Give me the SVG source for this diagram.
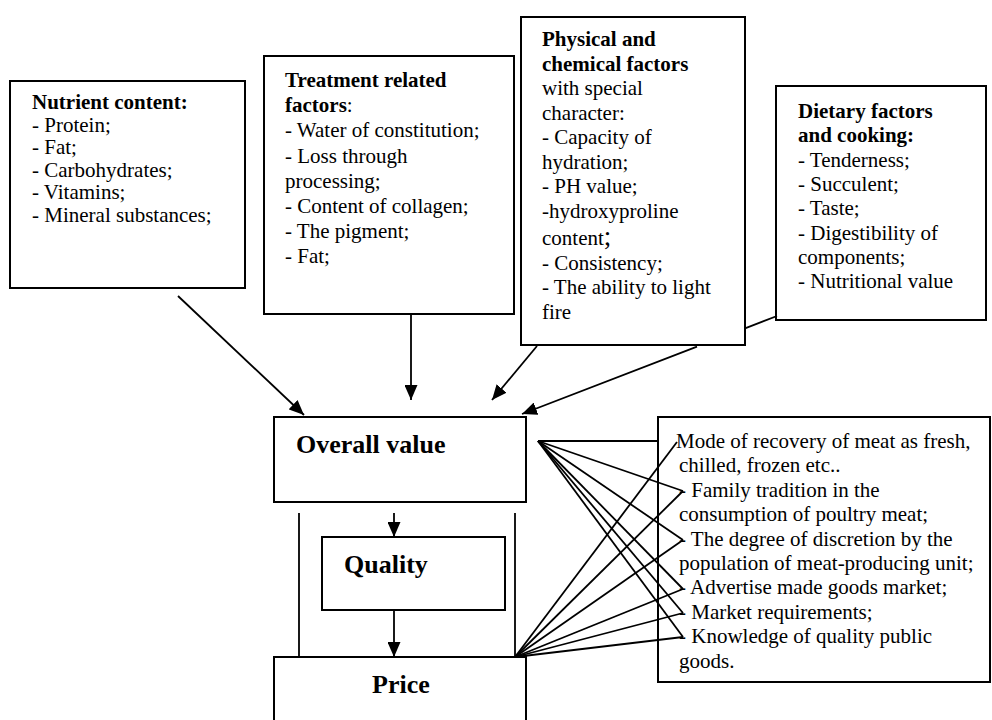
<svg xmlns="http://www.w3.org/2000/svg" width="992" height="720" viewBox="0 0 992 720">
<style>
.box{fill:#fff;stroke:#000;stroke-width:2}
.open{fill:none;stroke:#000;stroke-width:2}
.t{font-family:"Liberation Serif","Times New Roman",serif;font-size:21px;fill:#000}
.b{font-weight:bold}
.big{font-family:"Liberation Serif","Times New Roman",serif;font-size:26px;font-weight:bold;fill:#000}
.ln{stroke:#000;stroke-width:1.8;fill:none}
.ar{stroke:#000;stroke-width:1.8;fill:none;marker-end:url(#ah)}
</style>
<defs>
<marker id="ah" markerWidth="15" markerHeight="13" refX="15" refY="6.5" orient="auto" markerUnits="userSpaceOnUse">
<path d="M0,0 L15,6.5 L0,13 z" fill="#000"/>
</marker>
</defs>
<rect width="992" height="720" fill="#fff"/>
<g id="nutrient">
<rect class="box" x="10" y="81" width="235" height="207"/>
<text class="t" x="32"><tspan class="b" y="109">Nutrient content:</tspan><tspan x="32" y="131.5">- Protein;</tspan><tspan x="32" y="154">- Fat;</tspan><tspan x="32" y="176.5">- Carbohydrates;</tspan><tspan x="32" y="199">- Vitamins;</tspan><tspan x="32" y="221.5">- Mineral substances;</tspan></text>
</g>
<g id="treatment">
<rect class="box" x="264" y="56" width="250" height="258"/>
<text class="t" x="285"><tspan class="b" y="87">Treatment related</tspan><tspan x="285" y="112.2"><tspan class="b">factors</tspan>:</tspan><tspan x="285" y="137.4">- Water of constitution;</tspan><tspan x="285" y="162.6">- Loss through</tspan><tspan x="285" y="187.8">processing;</tspan><tspan x="285" y="213">- Content of collagen;</tspan><tspan x="285" y="238.2">- The pigment;</tspan><tspan x="285" y="263.4">- Fat;</tspan></text>
</g>
<g id="physical">
<rect class="box" x="521" y="17" width="224" height="328"/>
<text class="t" x="542"><tspan class="b" y="46">Physical and</tspan><tspan class="b" x="542" y="70.5">chemical factors</tspan><tspan x="542" y="95">with special</tspan><tspan x="542" y="119.5">character:</tspan><tspan x="542" y="144">- Capacity of</tspan><tspan x="542" y="168.5">hydration;</tspan><tspan x="542" y="193">- PH value;</tspan><tspan x="542" y="217.5">-hydroxyproline</tspan><tspan x="542" y="245">content<tspan font-size="27px">;</tspan></tspan><tspan x="542" y="269.5">- Consistency;</tspan><tspan x="542" y="294">- The ability to light</tspan><tspan x="542" y="318.5">fire</tspan></text>
</g>
<g id="dietary">
<rect class="box" x="776" y="86" width="210" height="234"/>
<text class="t" x="798"><tspan class="b" y="118">Dietary factors</tspan><tspan class="b" x="798" y="142.3">and cooking:</tspan><tspan x="798" y="166.6">- Tenderness;</tspan><tspan x="798" y="190.9">- Succulent;</tspan><tspan x="798" y="215.2">- Taste;</tspan><tspan x="798" y="239.5">- Digestibility of</tspan><tspan x="798" y="263.8">components;</tspan><tspan x="798" y="288.1">- Nutritional  value</tspan></text>
</g>
<g id="overall">
<rect class="box" x="274" y="417" width="252" height="85"/>
<text class="big" x="296" y="453">Overall value</text>
</g>
<g id="quality">
<rect class="box" x="322" y="537" width="183" height="73"/>
<text class="big" x="344" y="573">Quality</text>
</g>
<g id="price">
<rect class="box" x="274" y="657" width="252" height="100"/>
<text class="big" x="372" y="693">Price</text>
</g>
<g id="external">
<rect class="open" x="658" y="417" width="332" height="265"/>
<text class="t" x="679"><tspan x="676" y="448">Mode of recovery of meat as fresh,</tspan><tspan x="679" y="472.4">chilled, frozen etc..</tspan><tspan x="679" y="496.8">- Family tradition in the</tspan><tspan x="679" y="521.2">consumption of poultry meat;</tspan><tspan x="679" y="545.6">- The degree of discretion  by the</tspan><tspan x="679" y="570">population of meat-producing unit;</tspan><tspan x="679" y="594.4">- Advertise made goods  market;</tspan><tspan x="679" y="618.8">- Market requirements;</tspan><tspan x="679" y="643.2">- Knowledge of quality public</tspan><tspan x="679" y="667.6">goods.</tspan></text>
</g>
<g id="connectors">
<line class="ar" x1="178" y1="296" x2="304" y2="415"/>
<line class="ar" x1="411" y1="314" x2="411" y2="400"/>
<line class="ar" x1="537" y1="346" x2="492" y2="400"/>
<path class="ar" d="M777,316 L745,328.3 M697,346.7 L522,414"/>
<line class="ln" x1="299" y1="513" x2="299" y2="657"/>
<line class="ln" x1="515" y1="513" x2="515" y2="657"/>
<line class="ar" x1="394" y1="513" x2="394" y2="537"/>
<line class="ar" x1="394" y1="610" x2="394" y2="657"/>
<line class="ln" x1="538" y1="441" x2="658" y2="441"/>
<line class="ln" x1="538" y1="441" x2="683" y2="491"/>
<line class="ln" x1="538" y1="441" x2="683" y2="540"/>
<line class="ln" x1="538" y1="441" x2="683" y2="589"/>
<line class="ln" x1="538" y1="441" x2="683" y2="613"/>
<line class="ln" x1="538" y1="441" x2="683" y2="637"/>
<line class="ln" x1="515" y1="657" x2="677" y2="442"/>
<line class="ln" x1="515" y1="657" x2="683" y2="491"/>
<line class="ln" x1="515" y1="657" x2="683" y2="540"/>
<line class="ln" x1="515" y1="657" x2="683" y2="589"/>
<line class="ln" x1="515" y1="657" x2="683" y2="613"/>
<line class="ln" x1="515" y1="657" x2="683" y2="637"/>
</g>
</svg>
